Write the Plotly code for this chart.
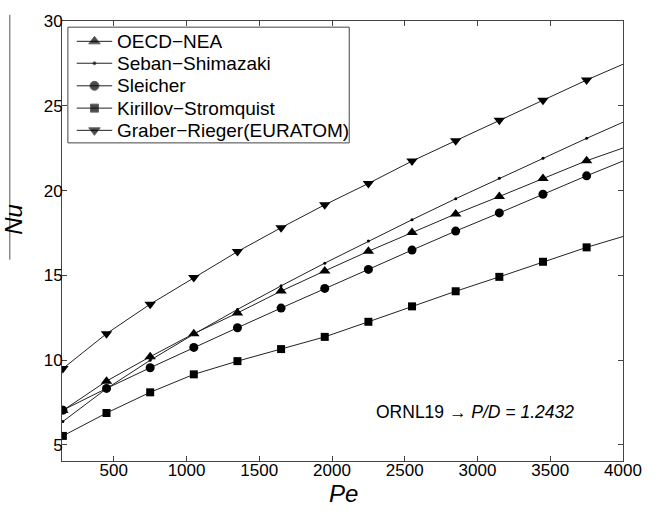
import plotly.graph_objects as go

pe_markers = [150, 450, 750, 1050, 1350, 1650, 1950, 2250, 2550, 2850, 3150, 3450, 3750]
pe_end = 4000

oecd = [7.03, 8.76, 10.2, 11.56, 12.78, 14.07, 15.26, 16.42, 17.52, 18.62, 19.65, 20.71, 21.76]
oecd_end = 22.51
seban = [6.38, 8.32, 9.99, 11.53, 12.99, 14.38, 15.72, 17.02, 18.28, 19.52, 20.72, 21.91, 23.08]
seban_end = 24.03
sleicher = [7.05, 8.33, 9.55, 10.75, 11.91, 13.07, 14.23, 15.35, 16.49, 17.61, 18.68, 19.78, 20.87]
sleicher_end = 21.74
kirillov = [5.53, 6.88, 8.10, 9.16, 9.94, 10.65, 11.37, 12.26, 13.17, 14.06, 14.91, 15.80, 16.65]
kirillov_end = 17.29
graber = [9.5, 11.56, 13.3, 14.87, 16.4, 17.81, 19.16, 20.42, 21.74, 22.94, 24.14, 25.32, 26.52]
graber_end = 27.45

series_names = ["OECD\u2212NEA", "Seban\u2212Shimazaki", "Sleicher",
                "Kirillov\u2212Stromquist", "Graber\u2212Rieger(EURATOM)"]
series_values = [oecd, seban, sleicher, kirillov, graber]
series_ends = [oecd_end, seban_end, sleicher_end, kirillov_end, graber_end]
symbols = ["triangle-up", "circle", "circle", "square", "triangle-down"]
sizes = [10, 3, 9, 8, 10]

LINE = "#222222"
FONT = "Liberation Sans, Arial, Helvetica"
fig = go.Figure()
for name, vals, end, sym, size in zip(series_names, series_values, series_ends, symbols, sizes):
    fig.add_trace(go.Scatter(
        x=pe_markers + [pe_end], y=vals + [end], mode="lines",
        line=dict(color=LINE, width=1), showlegend=False, hoverinfo="skip"))
    fig.add_trace(go.Scatter(
        x=pe_markers, y=vals, mode="markers", name=name, showlegend=False,
        marker=dict(symbol=sym, size=size, color="black")))

# ---- hand-built legend (MATLAB style box) on an overlay axis in paper units ----
box_x0, box_x1, box_y0, box_y1 = 0.0105, 0.512, 0.723, 0.986
row_y = [0.9538, 0.904, 0.8527, 0.8020, 0.7515]
sample_x0, sample_x1, sample_xm, text_x = 0.0263, 0.0895, 0.0579, 0.095
fig.add_shape(type="rect", xref="paper", yref="paper", x0=box_x0, x1=box_x1, y0=box_y0, y1=box_y1,
              line=dict(color="#444", width=1), fillcolor="white", layer="below")
for name, sym, size, ry in zip(series_names, symbols, sizes, row_y):
    fig.add_trace(go.Scatter(
        x=[sample_x0, sample_xm, sample_x1], y=[ry, ry, ry], xaxis="x2", yaxis="y2",
        mode="lines+markers", line=dict(color=LINE, width=1),
        marker=dict(symbol=sym, size=[0, size, 0], color="black"),
        showlegend=False, hoverinfo="skip"))
    fig.add_annotation(x=text_x, y=ry, xref="paper", yref="paper", showarrow=False,
                       text=name, xanchor="left", yanchor="middle",
                       font=dict(size=19, family=FONT, color="black"))

axis_common = dict(
    showgrid=False, zeroline=False, showline=True, linecolor="#444", linewidth=1,
    mirror="ticks", ticks="inside", ticklen=5, tickcolor="#444",
    tickfont=dict(family=FONT, size=17, color="black"),
)
fig.update_xaxes(range=[144, 4000], tickvals=[500, 1000, 1500, 2000, 2500, 3000, 3500, 4000],
                 ticklabelstandoff=-6, **axis_common)
fig.update_yaxes(range=[4.05, 30], tickvals=[5, 10, 15, 20, 25, 30],
                 ticklabelstandoff=-5, **axis_common)

fig.update_layout(
    width=654, height=511,
    margin=dict(l=62, r=22, t=13, b=50),
    plot_bgcolor="white", paper_bgcolor="white",
    font=dict(family=FONT, color="black"),
    showlegend=False,
    xaxis2=dict(overlaying="x", range=[0, 1], visible=False, domain=[0, 1]),
    yaxis2=dict(overlaying="y", range=[0, 1], visible=False, domain=[0, 1]),
)

fig.add_annotation(x=2985, y=6.92, xref="x", yref="y", showarrow=False,
                   text="ORNL19 \u2192 <i>P/D = 1.2432</i>",
                   font=dict(size=17.5, family=FONT), xanchor="center", yanchor="middle")
fig.add_annotation(x=0.502, y=-0.074, xref="paper", yref="paper", showarrow=False,
                   text="<i>Pe</i>", font=dict(size=24, family=FONT),
                   xanchor="center", yanchor="middle")
fig.add_annotation(x=-0.086, y=0.55, xref="paper", yref="paper", showarrow=False,
                   text="<i>Nu</i>", textangle=-90, font=dict(size=24, family=FONT),
                   xanchor="center", yanchor="middle")
fig.add_shape(type="line", xref="paper", yref="paper", x0=-0.093, x1=-0.093, y0=1.014, y1=0.4575,
              line=dict(color="#555", width=1))

fig.write_html("out.html")
